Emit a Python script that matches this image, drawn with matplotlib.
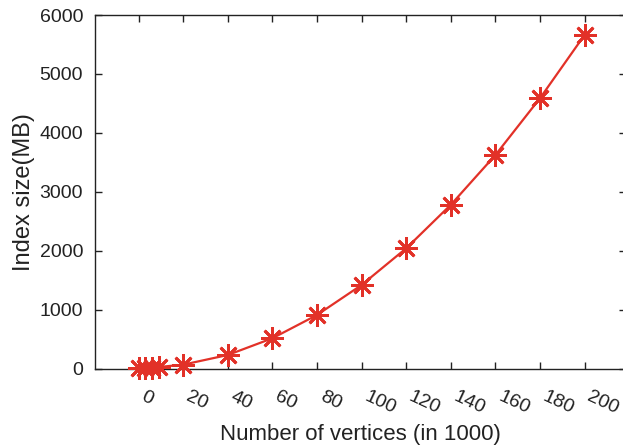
import matplotlib
matplotlib.use("Agg")
import matplotlib.pyplot as plt

vertices = [0, 3, 6, 9, 20, 40, 60, 80, 100, 120, 140, 160, 180, 200]
index_mb = [2, 5, 12, 25, 65, 229, 513, 908, 1418, 2041, 2780, 3625, 4590, 5665]
xticks = [0, 20, 40, 60, 80, 100, 120, 140, 160, 180, 200]
yticks = [0, 1000, 2000, 3000, 4000, 5000, 6000]

plt.rcParams['font.family'] = ['Liberation Sans', 'DejaVu Sans']

W, H = 623, 448
fig = plt.figure(figsize=(W / 100, H / 100), dpi=100)
left, right, top, bottom = 95, 626, 15, 368.5
ax = fig.add_axes([left / W, (H - bottom) / H, (right - left) / W, (bottom - top) / H])

color = '#e23128'
ax.plot(vertices, index_mb, color=color, lw=1.6, marker=(8, 2, 0), ms=16, mew=2.0,
        mec=color, mfc=color, clip_on=False, zorder=3)

ax.set_xlim(-19.5, 218.5)
ax.set_ylim(0, 6000)
ax.set_xticks(xticks)
ax.set_yticks(yticks)
ax.set_xticklabels([str(v) for v in xticks], rotation=-25, ha='left', fontsize=14, color='#222222')
ax.set_yticklabels([str(v) for v in yticks], fontsize=14, color='#222222')
ax.tick_params(direction='in', length=5, width=1, top=True, right=True, color='#222222')
ax.tick_params(axis='x', pad=14)
ax.tick_params(axis='y', pad=8.5)
for s in ax.spines.values():
    s.set_linewidth(1.0)
    s.set_color('#222222')

ax.set_xlabel('Number of vertices (in 1000)', fontsize=16, color='#222222', labelpad=5)
ax.set_ylabel('Index size(MB)', fontsize=17, color='#222222', labelpad=3)

fig.savefig('out.png', dpi=100)
